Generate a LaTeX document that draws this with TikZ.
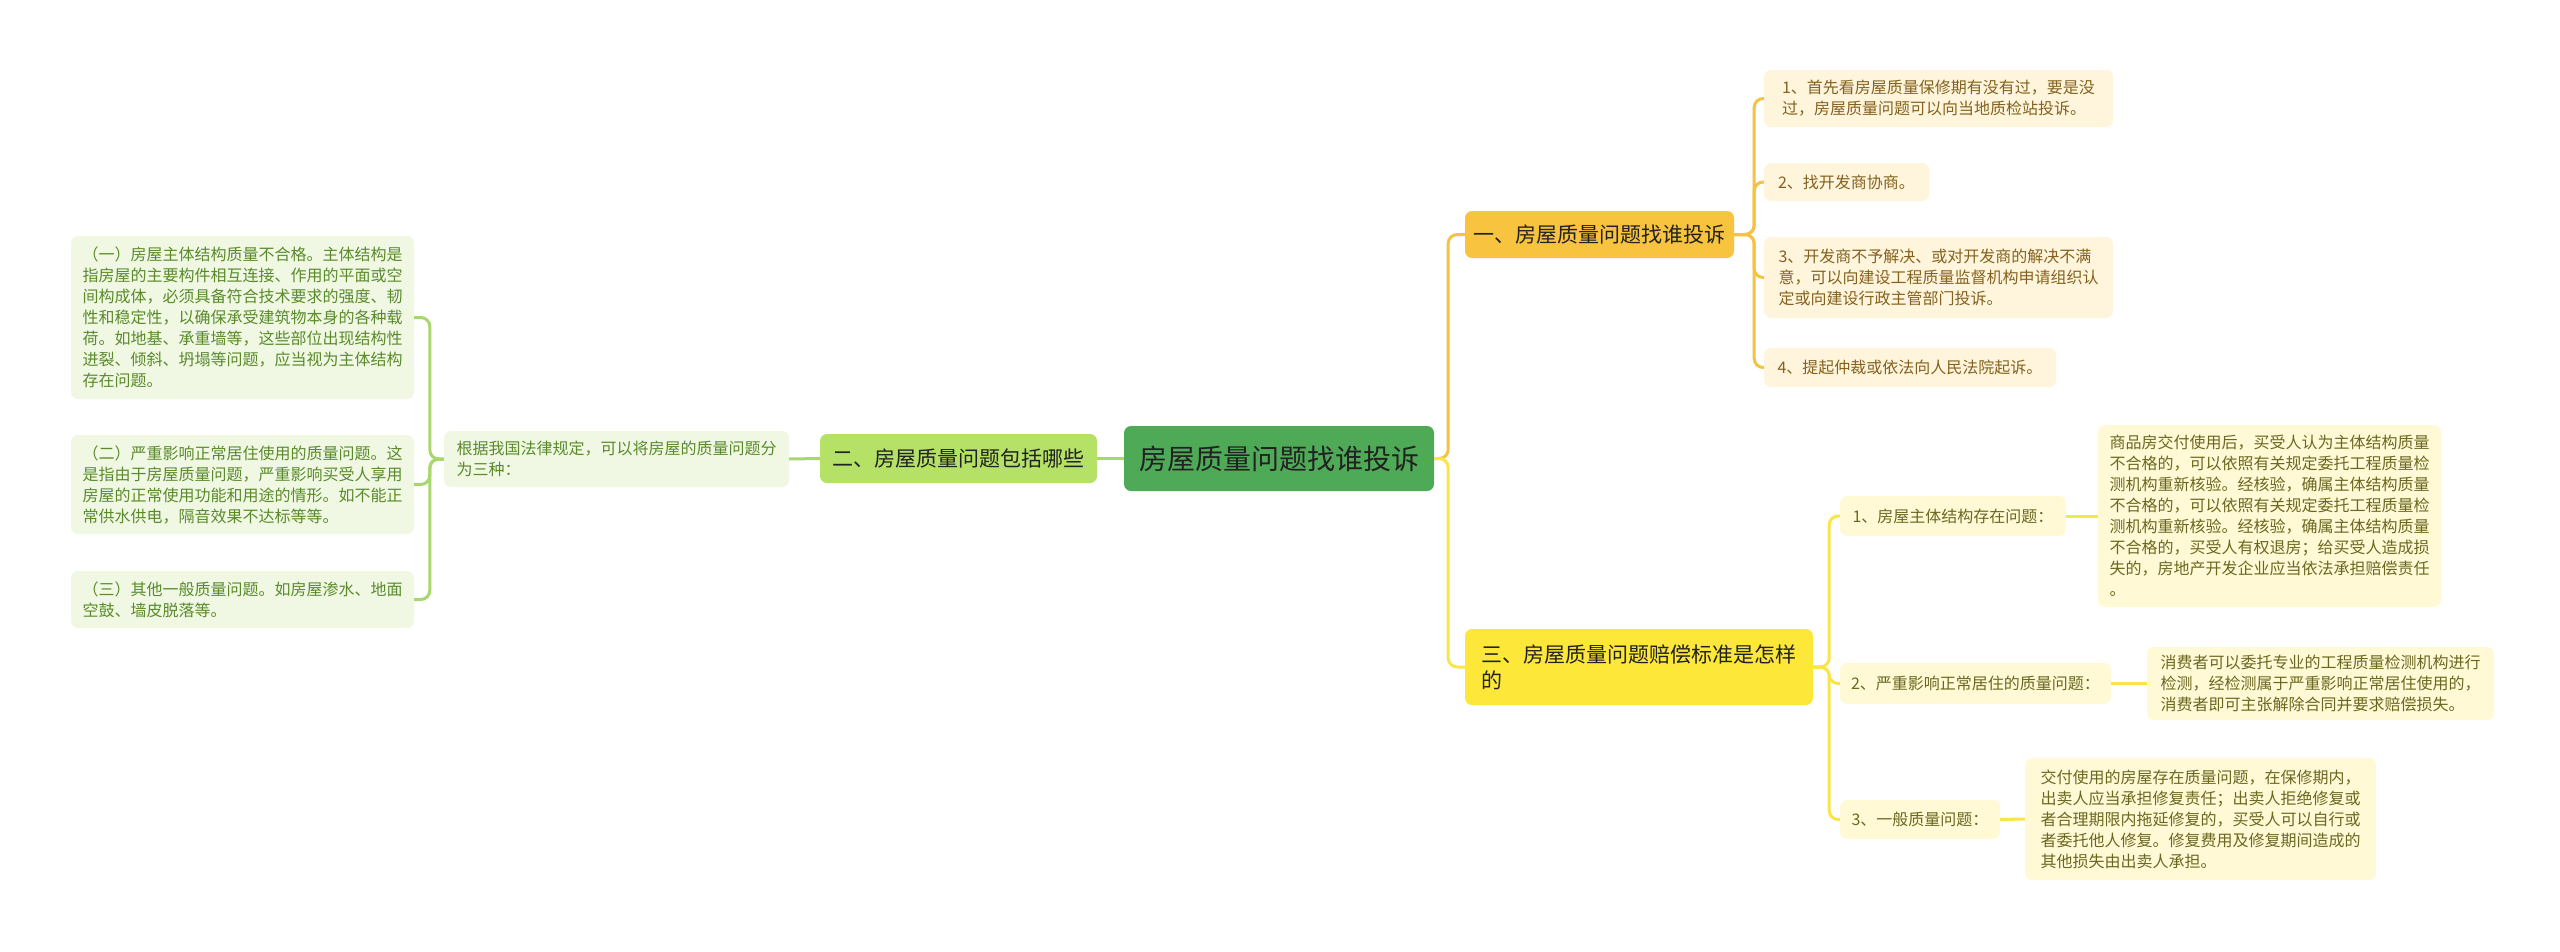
\documentclass[tikz,border=0pt]{standalone}
\usepackage{fontspec}
\newfontfamily\cjk{Noto Sans CJK SC}
\definecolor{cgreen}{HTML}{4FAA58}
\definecolor{lgreenfill}{HTML}{B4E166}
\definecolor{pgreenfill}{HTML}{F0F8E4}
\definecolor{greentext}{HTML}{5A8A2A}
\definecolor{greenline}{HTML}{A8D76C}
\definecolor{orangefill}{HTML}{F8C33E}
\definecolor{orangeline}{HTML}{F6C244}
\definecolor{porangefill}{HTML}{FFF5DC}
\definecolor{browntext}{HTML}{84621E}
\definecolor{yellowfill}{HTML}{FDE83A}
\definecolor{yellowline}{HTML}{F9E547}
\definecolor{pyellowfill}{HTML}{FFFAD5}
\definecolor{olivetext}{HTML}{6C6720}
\definecolor{darktext}{HTML}{222222}
\begin{document}
\begin{tikzpicture}[x=1pt,y=-1pt,
  base/.style={rounded corners=7pt, inner sep=0pt, align=left},
  small/.style={base, font=\cjk\fontsize{16}{21}\selectfont},
  mid/.style={base, font=\cjk\fontsize{21}{26}\selectfont, text=darktext},
  gleaf/.style={small, fill=pgreenfill, text=greentext},
  oleaf/.style={small, fill=porangefill, text=browntext},
  yleaf/.style={small, fill=pyellowfill, text=olivetext},
  gl/.style={draw=greenline, line width=3pt, rounded corners=9pt},
  ol/.style={draw=orangeline, line width=3pt, rounded corners=9pt},
  yl/.style={draw=yellowline, line width=3pt, rounded corners=9pt}]
\useasboundingbox (0,0) rectangle (2560,951);
\fill[white] (0,0) rectangle (2560,951);

% center
\node[base, fill=cgreen, text=darktext, font=\cjk\fontsize{28}{34}\selectfont,
  minimum width=310, minimum height=65] (root) at (1279,458.5) {房屋质量问题找谁投诉};

% left branch
\node[mid, fill=lgreenfill, minimum width=277, minimum height=49] (two) at (958.5,458.5) {二、房屋质量问题包括哪些};
\node[gleaf, minimum width=345, minimum height=56] (gen) at (616.5,459) {根据我国法律规定，可以将房屋的质量问题分\\为三种：};
\node[gleaf, minimum width=343, minimum height=163] (la) at (242.5,317.5) {（一）房屋主体结构质量不合格。主体结构是\\指房屋的主要构件相互连接、作用的平面或空\\间构成体，必须具备符合技术要求的强度、韧\\性和稳定性，以确保承受建筑物本身的各种载\\荷。如地基、承重墙等，这些部位出现结构性\\进裂、倾斜、坍塌等问题，应当视为主体结构\\存在问题。};
\node[gleaf, minimum width=343, minimum height=99] (lb) at (242.5,484.5) {（二）严重影响正常居住使用的质量问题。这\\是指由于房屋质量问题，严重影响买受人享用\\房屋的正常使用功能和用途的情形。如不能正\\常供水供电，隔音效果不达标等等。};
\node[gleaf, minimum width=343, minimum height=57] (lc) at (242.5,599.5) {（三）其他一般质量问题。如房屋渗水、地面\\空鼓、墙皮脱落等。};

% upper right branch
\node[mid, fill=orangefill, minimum width=269, minimum height=47] (one) at (1599.5,234.5) {一、房屋质量问题找谁投诉};
\node[oleaf, minimum width=349, minimum height=57] (r1) at (1938.5,98.5) {1、首先看房屋质量保修期有没有过，要是没\\过，房屋质量问题可以向当地质检站投诉。};
\node[oleaf, minimum width=165, minimum height=38] (r2) at (1846.5,182) {2、找开发商协商。};
\node[oleaf, minimum width=349, minimum height=81] (r3) at (1938.5,277.5) {3、开发商不予解决、或对开发商的解决不满\\意，可以向建设工程质量监督机构申请组织认\\定或向建设行政主管部门投诉。};
\node[oleaf, minimum width=292, minimum height=39] (r4) at (1910,367.5) {4、提起仲裁或依法向人民法院起诉。};

% lower right branch
\node[mid, fill=yellowfill, minimum width=348, minimum height=76] (three) at (1639,667) {三、房屋质量问题赔偿标准是怎样\\的};
\node[yleaf, minimum width=226, minimum height=40] (m1) at (1953,516) {1、房屋主体结构存在问题：};
\node[yleaf, minimum width=271, minimum height=41] (m2) at (1975.5,683.5) {2、严重影响正常居住的质量问题：};
\node[yleaf, minimum width=160, minimum height=39] (m3) at (1920,819.5) {3、一般质量问题：};
\node[yleaf, minimum width=343, minimum height=182] (s1) at (2269.5,516) {商品房交付使用后，买受人认为主体结构质量\\不合格的，可以依照有关规定委托工程质量检\\测机构重新核验。经核验，确属主体结构质量\\不合格的，可以依照有关规定委托工程质量检\\测机构重新核验。经核验，确属主体结构质量\\不合格的，买受人有权退房；给买受人造成损\\失的，房地产开发企业应当依法承担赔偿责任\\。};
\node[yleaf, minimum width=347, minimum height=73] (s2) at (2320.5,683.5) {消费者可以委托专业的工程质量检测机构进行\\检测，经检测属于严重影响正常居住使用的，\\消费者即可主张解除合同并要求赔偿损失。};
\node[yleaf, minimum width=351, minimum height=122] (s3) at (2200.5,819) {交付使用的房屋存在质量问题，在保修期内，\\出卖人应当承担修复责任；出卖人拒绝修复或\\者合理期限内拖延修复的，买受人可以自行或\\者委托他人修复。修复费用及修复期间造成的\\其他损失由出卖人承担。};

% connectors
\draw[gl] (root.west) -- (two.east);
\draw[gl] (two.west) -- (gen.east);
\draw[gl] (gen.west) -- ++(-14,0) |- (la.east);
\draw[gl] (gen.west) -- ++(-14,0) |- (lb.east);
\draw[gl] (gen.west) -- ++(-14,0) |- (lc.east);

\draw[ol] (root.east) -- ++(14,0) |- (one.west);
\draw[yl] (root.east) -- ++(14,0) |- (three.west);

\draw[ol] (one.east) -- ++(20,0) |- (r1.west);
\draw[ol] (one.east) -- ++(20,0) |- (r2.west);
\draw[ol] (one.east) -- ++(20,0) |- (r3.west);
\draw[ol] (one.east) -- ++(20,0) |- (r4.west);

\draw[yl] (three.east) -- ++(16,0) |- (m1.west);
\draw[yl] (three.east) -- ++(16,0) |- (m2.west);
\draw[yl] (three.east) -- ++(16,0) |- (m3.west);
\draw[yl] (m1.east) -- (s1.west);
\draw[yl] (m2.east) -- (s2.west);
\draw[yl] (m3.east) -- (s3.west);
\end{tikzpicture}
\end{document}
